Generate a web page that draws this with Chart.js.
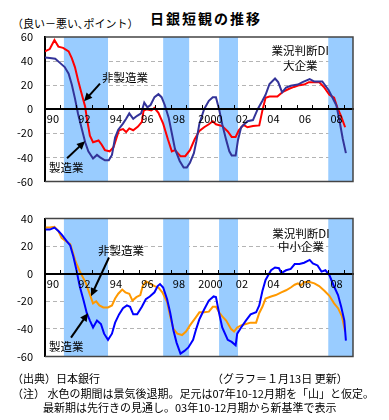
<!DOCTYPE html>
<html>
<head>
<meta charset="utf-8">
<script src="https://cdn.jsdelivr.net/npm/chart.js@4.4.0/dist/chart.umd.min.js"></script>
<style>
    body { margin: 0; background: #fff; font-family: "Noto Sans CJK JP", sans-serif; }
    #wrap { position: relative; width: 389px; height: 420px; overflow: hidden; }
    canvas { position: absolute; left: 0; }
    .txt { position: absolute; white-space: nowrap; font-size: 11px; line-height: 14px; color: #000; }
</style>
</head>
<body>
<div id="wrap">
    <div class="txt" style="left:12px;top:16px;">（良い－悪い､ポイント）</div>
    <div class="txt" style="left:150px;top:9px;font-size:14px;font-weight:bold;letter-spacing:2px;line-height:18px;">日銀短観の推移</div>
    <canvas id="topChart" width="389" height="200" style="top:0"></canvas>
    <canvas id="bottomChart" width="389" height="175" style="top:200px"></canvas>
    <div class="txt" style="left:12px;top:371px;">（出典）日本銀行</div>
    <div class="txt" style="left:212px;top:371px;">（グラフ＝１月13日 更新）</div>
    <div class="txt" style="left:12px;top:386px;">（注） 水色の期間は景気後退期。足元は07年10-12月期を「山」と仮定。</div>
    <div class="txt" style="left:43px;top:400px;">最新期は先行きの見通し。03年10-12月期から新基準で表示</div>
</div>
<script>
// 大企業 製造業 / 非製造業 (year, DI)
const largeMfg = [[1990.0,43],[1990.3,42.5],[1990.65,42],[1990.95,38.5],[1991.25,35],[1991.5,29.5],[1991.7,20.5],[1991.9,9],[1992.1,-4],[1992.35,-17],[1992.55,-27.5],[1992.75,-35],[1993.05,-41],[1993.3,-38],[1993.5,-40],[1993.8,-42.5],[1994.05,-42.5],[1994.25,-38],[1994.45,-23.5],[1994.65,-17],[1994.95,-12],[1995.15,-8],[1995.35,-3.5],[1995.6,-8],[1995.85,-5.5],[1996.1,-3.5],[1996.3,5.5],[1996.5,1.5],[1996.7,3.5],[1996.95,10],[1997.2,12.5],[1997.4,10],[1997.6,3.5],[1997.85,-7],[1998.05,-20],[1998.25,-33],[1998.55,-43],[1998.8,-48.5],[1999.0,-48.5],[1999.2,-44.5],[1999.45,-36.5],[1999.6,-27],[1999.8,-12],[2000.1,0],[2000.4,7],[2000.65,10],[2000.85,10],[2001.05,0],[2001.25,-12.5],[2001.5,-25.5],[2001.7,-35],[2001.85,-38.5],[2002.1,-38.5],[2002.25,-25.5],[2002.45,-15],[2002.65,-12.5],[2002.85,-10],[2003.2,-9],[2003.5,0],[2003.8,7],[2004.0,12],[2004.25,21],[2004.6,25.5],[2004.8,22.5],[2005.05,14],[2005.3,18],[2005.6,19.5],[2006.05,20.5],[2006.35,22.5],[2006.8,25],[2007.1,23],[2007.6,23],[2008.0,16],[2008.25,9.5],[2008.5,3],[2008.7,-10],[2008.9,-24.5],[2009.1,-36.5]];
const largeNonMfg = [[1990.0,48],[1990.3,50],[1990.6,57.5],[1990.85,52],[1991.15,51],[1991.5,48],[1991.7,42.5],[1991.9,35],[1992.1,24],[1992.3,14],[1992.55,2],[1992.65,-7],[1992.75,-14.5],[1992.85,-22],[1993.05,-27.5],[1993.4,-26],[1993.6,-29.5],[1993.8,-34],[1994.1,-35],[1994.35,-31.5],[1994.55,-23.5],[1994.7,-17.5],[1994.95,-16.5],[1995.15,-19],[1995.35,-16],[1995.6,-17.5],[1995.9,-14.5],[1996.15,-10.5],[1996.25,-1.5],[1996.45,0],[1996.75,-1],[1996.95,1],[1997.2,-3],[1997.5,-12],[1997.8,-25],[1998.05,-35],[1998.25,-34],[1998.6,-39],[1998.9,-39],[1999.2,-34],[1999.5,-25],[1999.8,-18],[2000.1,-15],[2000.4,-12.5],[2000.65,-10],[2000.85,-12.5],[2001.25,-14],[2001.6,-18.5],[2001.85,-23],[2002.1,-23],[2002.3,-17.5],[2002.6,-13],[2002.85,-15],[2003.2,-14],[2003.6,-13.5],[2003.8,-1],[2004.0,9.5],[2004.25,10.5],[2004.75,10.5],[2005.1,14.5],[2005.5,17],[2005.8,18.5],[2006.15,20],[2006.45,20.5],[2006.75,22.5],[2007.1,22.5],[2007.4,22.5],[2007.7,18.5],[2008.05,12],[2008.35,9.5],[2008.55,1.5],[2008.8,-6],[2009.05,-15]];

// 中小企業 製造業 / 非製造業
const smallMfg = [[1990.05,32],[1990.3,32],[1990.6,33.5],[1990.85,31],[1991.05,28.5],[1991.35,24],[1991.6,20.5],[1991.8,12.5],[1992.0,2.5],[1992.2,-9],[1992.45,-19.5],[1992.65,-28.5],[1992.85,-34],[1993.05,-39],[1993.3,-34],[1993.55,-36.5],[1993.75,-43.5],[1994.0,-48],[1994.25,-43.5],[1994.45,-35.5],[1994.7,-29.5],[1994.95,-25],[1995.2,-23],[1995.4,-24],[1995.6,-29.5],[1995.85,-29.5],[1996.15,-24],[1996.4,-18.5],[1996.65,-16.5],[1996.95,-13.5],[1997.15,-9],[1997.3,-7.5],[1997.5,-10],[1997.75,-18.5],[1997.95,-28.5],[1998.15,-41],[1998.35,-50],[1998.6,-58],[1998.85,-56],[1999.1,-53.5],[1999.4,-48],[1999.6,-40],[1999.8,-33],[2000.1,-26],[2000.4,-19.5],[2000.7,-16.5],[2000.85,-17],[2001.05,-28.5],[2001.25,-39],[2001.6,-48],[2001.85,-49.5],[2002.1,-52],[2002.2,-43.5],[2002.45,-39],[2002.75,-34],[2003.05,-29.5],[2003.4,-28],[2003.6,-23],[2003.8,-12.5],[2004.0,-4.5],[2004.35,2.5],[2004.6,4.5],[2004.85,4],[2005.0,0.5],[2005.3,2.5],[2005.6,3.5],[2005.85,7],[2006.15,7],[2006.45,8],[2006.8,10],[2007.0,7.5],[2007.3,6],[2007.55,1.5],[2007.8,2.5],[2008.05,-1],[2008.3,-8],[2008.6,-15.5],[2008.8,-24],[2009.0,-34],[2009.1,-48.5]];
const smallNonMfg = [[1990.05,33.5],[1990.3,33.5],[1990.6,34],[1990.85,31],[1991.05,26],[1991.35,23.5],[1991.6,21.5],[1991.75,16],[1991.95,8.5],[1992.2,2],[1992.4,-2.5],[1992.6,-7],[1992.8,-13.5],[1993.05,-21.5],[1993.25,-20],[1993.45,-23],[1993.7,-24.5],[1994.0,-24.5],[1994.25,-23],[1994.45,-18],[1994.65,-14.5],[1994.9,-11.5],[1995.1,-13.5],[1995.35,-14.5],[1995.55,-19.5],[1995.8,-17],[1996.05,-15.5],[1996.2,-9],[1996.4,-5.5],[1996.65,-7],[1996.95,-9],[1997.2,-10],[1997.45,-13.5],[1997.75,-20.5],[1997.95,-31],[1998.15,-40],[1998.4,-43.5],[1998.7,-44.5],[1998.95,-42],[1999.2,-37.5],[1999.55,-32],[1999.8,-28],[2000.1,-28],[2000.4,-27.5],[2000.65,-24],[2000.85,-24],[2001.05,-28],[2001.25,-31],[2001.5,-34],[2001.8,-40],[2002.0,-42],[2002.2,-39],[2002.45,-37.5],[2002.75,-36.5],[2003.05,-35.5],[2003.4,-35.5],[2003.6,-28.5],[2003.8,-24],[2004.0,-18],[2004.35,-16.5],[2004.65,-15.5],[2005.0,-13.5],[2005.3,-12],[2005.6,-10],[2005.85,-8],[2006.05,-7],[2006.25,-8.5],[2006.45,-6],[2006.8,-6],[2007.1,-7],[2007.4,-9],[2007.75,-12.5],[2008.05,-16],[2008.35,-21.5],[2008.6,-25],[2008.85,-31],[2009.05,-42]];

// 景気後退期 (水色)
const recessionBands = [[1991.2, 1994.0], [1997.5, 1999.15], [2001.05, 2002.25], [2007.98, 2009.6]];

const xMin = 1990;
const xMax = 2009.55;

Chart.defaults.font.family = '"Noto Sans CJK JP", sans-serif';
Chart.defaults.color = '#000';

function toPoints(pairs) {
    return pairs.map(p => ({ x: p[0], y: p[1] }));
}

function yearLabel(v) {
    if (v % 2 !== 0) return '';
    return v === 2000 ? '2000' : String(v % 100).padStart(2, '0');
}

function drawArrow(ctx, x1, y1, x2, y2) {
    const ang = Math.atan2(y2 - y1, x2 - x1);
    const head = 9;
    ctx.strokeStyle = '#000';
    ctx.lineWidth = 2;
    ctx.beginPath();
    ctx.moveTo(x1, y1);
    ctx.lineTo(x2 - head * 0.7 * Math.cos(ang), y2 - head * 0.7 * Math.sin(ang));
    ctx.stroke();
    ctx.beginPath();
    ctx.moveTo(x2, y2);
    ctx.lineTo(x2 - head * Math.cos(ang - 0.45), y2 - head * Math.sin(ang - 0.45));
    ctx.lineTo(x2 - head * Math.cos(ang + 0.45), y2 - head * Math.sin(ang + 0.45));
    ctx.closePath();
    ctx.fill();
}

const bandPlugin = {
    id: 'bands',
    beforeDatasetsDraw(chart) {
        const { ctx, chartArea, scales: { x } } = chart;
        ctx.save();
        ctx.fillStyle = '#99ccff';
        recessionBands.forEach(function(b) {
            const x1 = x.getPixelForValue(b[0]);
            const x2 = Math.min(x.getPixelForValue(b[1]), chartArea.right);
            ctx.fillRect(x1, chartArea.top, x2 - x1, chartArea.bottom - chartArea.top);
        });
        ctx.restore();
    }
};

const notesPlugin = {
    id: 'notes',
    afterDraw(chart, args, opts) {
        const { ctx, chartArea: a, scales: { x, y } } = chart;
        ctx.save();
        // frame (top, right, bottom)
        ctx.strokeStyle = '#444';
        ctx.lineWidth = 1.5;
        ctx.beginPath();
        ctx.moveTo(a.left, a.top);
        ctx.lineTo(a.right, a.top);
        ctx.lineTo(a.right, a.bottom);
        ctx.lineTo(a.left, a.bottom);
        ctx.stroke();

        ctx.fillStyle = '#000';
        ctx.font = '11.5px "Noto Sans CJK JP"';
        ctx.textBaseline = 'middle';
        (opts.labels || []).forEach(function(l) {
            ctx.textAlign = l.align || 'left';
            ctx.fillText(l.text, x.getPixelForValue(l.x), y.getPixelForValue(l.y));
        });
        (opts.arrows || []).forEach(function(ar) {
            drawArrow(ctx, x.getPixelForValue(ar[0]), y.getPixelForValue(ar[1]),
                x.getPixelForValue(ar[2]), y.getPixelForValue(ar[3]));
        });
        ctx.restore();
    }
};

function buildChart(id, mfg, nonMfg, mfgColor, nonMfgColor, yMin, yMax, padding, notes) {
    return new Chart(document.getElementById(id), {
        type: 'line',
        data: {
            datasets: [
                { label: '製造業', data: toPoints(mfg), borderColor: mfgColor, borderWidth: 2, pointRadius: 0, tension: 0 },
                { label: '非製造業', data: toPoints(nonMfg), borderColor: nonMfgColor, borderWidth: 2, pointRadius: 0, tension: 0 }
            ]
        },
        options: {
            responsive: false,
            animation: false,
            layout: { padding: padding },
            plugins: {
                legend: { display: false },
                tooltip: { enabled: false },
                notes: notes
            },
            scales: {
                x: {
                    type: 'linear',
                    position: { y: 0 },
                    min: xMin,
                    max: xMax,
                    afterFit: s => { s.height = 0; },
                    grid: { drawOnChartArea: false, drawTicks: true, tickLength: -5, color: '#000', lineWidth: 1, z: 1 },
                    border: { display: true, color: '#000', width: 2, z: 1 },
                    ticks: {
                        z: 1,
                        stepSize: 1,
                        autoSkip: false,
                        includeBounds: false,
                        maxRotation: 0,
                        padding: 8,
                        labelOffset: 7.9,
                        font: { size: 11 },
                        callback: yearLabel
                    }
                },
                y: {
                    min: yMin,
                    max: yMax,
                    afterFit: s => { s.width = 45; },
                    grid: {
                        drawTicks: false,
                        lineWidth: 1,
                        color: c => (c.tick.value === 0 || c.tick.value === yMin || c.tick.value === yMax) ? 'rgba(0,0,0,0)' : '#b4b4b4'
                    },
                    border: { display: true, color: '#000', width: 2, dash: [4, 3] },
                    ticks: { stepSize: 10, padding: 12, font: { size: 11 }, callback: v => String(v) }
                }
            }
        },
        plugins: [bandPlugin, notesPlugin]
    });
}

document.addEventListener('DOMContentLoaded', function() {
    buildChart('topChart', largeMfg, largeNonMfg, '#333399', '#ff0000', -60, 60,
        { left: 0, right: 36, top: 37, bottom: 8 },
        {
            labels: [
                { text: '非製造業', x: 1993.62, y: 26 },
                { text: '製造業', x: 1990.25, y: -48.5 },
                { text: '業況判断DI', x: 2006.2, y: 48.4, align: 'center' },
                { text: '大企業', x: 2006.2, y: 36, align: 'center' }
            ],
            arrows: [
                [1993.49, 21.3, 1992.48, 6.6],
                [1991.4, -40.7, 1992.54, -26.7]
            ]
        });

    buildChart('bottomChart', smallMfg, smallNonMfg, '#0000ff', '#ff9900', -60, 40,
        { left: 0, right: 36, top: 17, bottom: 12 },
        {
            labels: [
                { text: '非製造業', x: 1993.37, y: 16.6 },
                { text: '製造業', x: 1990.25, y: -53.2 },
                { text: '業況判断DI', x: 2006.25, y: 29, align: 'center' },
                { text: '中小企業', x: 2006.25, y: 20, align: 'center' }
            ],
            arrows: [
                [1994.06, 11.8, 1992.92, -16.3],
                [1991.65, -46.4, 1992.73, -28.6]
            ]
        });
});
</script>
</body>
</html>
